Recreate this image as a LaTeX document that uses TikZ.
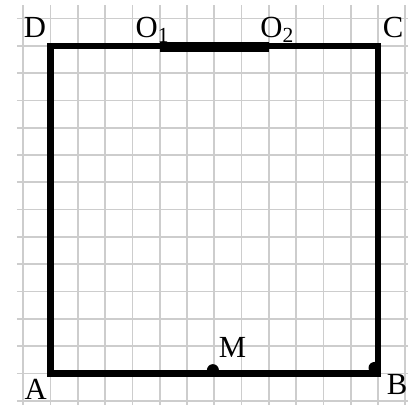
\documentclass[tikz,border=0pt]{standalone}
\usepackage{fontspec}
\setmainfont{Liberation Serif}
\usetikzlibrary{positioning}
\usepackage{xcolor}
\definecolor{gridgray}{RGB}{205,205,205}

\begin{document}
\begin{tikzpicture}[x=0.5cm, y=0.5cm,
  lbl/.style={inner sep=0pt, anchor=base, font=\fontsize{16}{19}\selectfont},
  side/.style={line width=3.4pt, line join=miter}]
  \useasboundingbox (-1.85,-1.15) rectangle (13.5,13.68);
  \draw[gridgray, line width=0.9pt, step=0.5cm] (-1.23,-1.15) grid (13.1,13.5);
  \coordinate (A) at (0,0);
  \coordinate (B) at (12,0);
  \coordinate (C) at (12,12);
  \coordinate (D) at (0,12);
  \coordinate (O1) at (4,12);
  \coordinate (O2) at (8,12);
  \coordinate (M) at (6,0);
  \draw[side] (A) -- (B) -- (C) -- (D) -- cycle;
  \draw[line width=5.2pt] ([yshift=-0.8pt]O1) -- ([yshift=-0.8pt]O2);
  \fill ([shift={(-0.05,0.12)}]M) circle (0.22);
  \fill ([shift={(-0.13,0.2)}]B) circle (0.22);
  \node[lbl] (lA) at (-0.54,-0.97) {A};
  \node[lbl] (lB) at (12.7,-0.78) {B};
  \node[lbl] (lC) at (12.55,12.29) {C};
  \node[lbl] (lD) at (-0.57,12.32) {D};
  \node[lbl] (lM) at (6.67,0.57) {M};
  \node[lbl] (lO1) at (3.74,12.29) {O\textsubscript{1}};
  \node[lbl] (lO2) at (8.31,12.29) {O\textsubscript{2}};
\end{tikzpicture}
\end{document}
